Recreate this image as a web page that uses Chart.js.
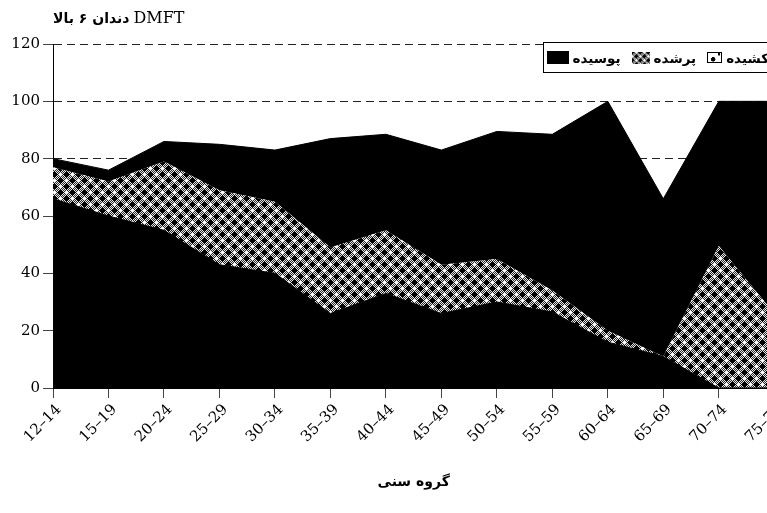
<!DOCTYPE html>
<html>
<head>
<meta charset="utf-8">
<script src="https://cdn.jsdelivr.net/npm/chart.js@4"></script>
<style>
  html, body { margin:0; padding:0; background:#fff; overflow:hidden; width:767px; height:513px; }
  #wrap { position:absolute; left:0; top:0; width:790px; height:513px; }
  #title { position:absolute; left:53px; top:8px; direction:rtl; white-space:nowrap; color:#000; }
  #title b { font-family:"DejaVu Sans", sans-serif; font-size:14px; }
  #title span { font-family:"DejaVu Serif", serif; font-size:16px; }
  #legend { position:absolute; left:543px; top:42px; width:226px; height:31px; border:1px solid #000; border-right:none; background:#fff;
            direction:rtl; display:flex; align-items:center; padding-right:0; box-sizing:border-box;
            font-family:"DejaVu Sans", sans-serif; font-weight:bold; font-size:13.5px; white-space:nowrap; }
  #legend .it { display:flex; align-items:center; margin-left:11px; }
  #legend .sw { height:12px; margin-right:4px; box-sizing:border-box; }
</style>
</head>
<body>
<div id="wrap"><canvas id="c" width="790" height="513"></canvas></div>
<div id="title"><span>DMFT</span> <b>دندان ۶ بالا</b></div>
<div id="legend"></div>
<script>
// گروه های سنی و مقادیر (درصد)
const ageGroups = ["12–14","15–19","20–24","25–29","30–34","35–39","40–44","45–49","50–54","55–59","60–64","65–69","70–74","75–77"];
const decayed   = [66, 60, 55, 43, 40, 26, 33, 26, 30, 26.5, 16, 11, 0, 0];          // پوسیده
const filled    = [11, 12, 24, 26, 25, 23, 22, 17, 15, 7.5, 4, 0, 49.5, 26];        // پرشده
const extracted = [3, 4, 7, 16, 18, 38, 33.5, 40, 44.5, 54.5, 80, 55, 50.5, 74];    // کشیده
const yTicks = [0, 20, 40, 60, 80, 100, 120];
const seriesNames = ["پوسیده", "پرشده", "کشیده"];

// الگوی شطرنجی
function makePattern() {
  const p = document.createElement('canvas');
  p.width = 12; p.height = 12;
  const g = p.getContext('2d');
  const img = g.createImageData(12, 12);
  for (let y = 0; y < 12; y++) {
    for (let x = 0; x < 12; x++) {
      const dc = Math.abs(x - 6) + Math.abs(y - 6);
      const dk = Math.min(x, 12 - x) + Math.min(y, 12 - y);
      const dw1 = Math.min(x, 12 - x) + Math.abs(y - 6);
      const dw2 = Math.abs(x - 6) + Math.min(y, 12 - y);
      let v;
      if (dc <= 3 || dk <= 3) v = 0;
      else if (dw1 <= 1 || dw2 <= 1) v = 255;
      else v = ((x + y) % 2 === 0) ? 230 : 40;
      const i = (y * 12 + x) * 4;
      img.data[i] = img.data[i+1] = img.data[i+2] = v;
      img.data[i+3] = 255;
    }
  }
  g.putImageData(img, 0, 0);
  return p;
}
const patCanvas = makePattern();
const ctx = document.getElementById('c').getContext('2d');
const checker = ctx.createPattern(patCanvas, 'repeat');

// راهنما
const legend = document.getElementById('legend');
const swatches = [
  { name: seriesNames[2], css: "width:15px;height:11px;background:#fff;border:1px solid #000;background-image:radial-gradient(circle at 40% 70%, #000 0 2px, transparent 2.5px), radial-gradient(circle at 85% 15%, #000 0 1px, transparent 1.5px);" },
  { name: seriesNames[1], css: "width:18px;background-image:url(" + patCanvas.toDataURL() + ");background-size:8px 8px;" },
  { name: seriesNames[0], css: "width:22px;height:13px;background:#000;" }
];
swatches.forEach(s => {
  const it = document.createElement('div');
  it.className = 'it';
  it.innerHTML = `<span>${s.name}</span><div class="sw" style="${s.css}"></div>`;
  legend.appendChild(it);
});

const serif = "'DejaVu Serif', serif";

new Chart(ctx, {
  type: 'line',
  data: {
    labels: ageGroups,
    datasets: [
      { label: seriesNames[0], data: decayed, fill: 'origin', backgroundColor: '#000', borderColor: '#000', borderWidth: 1, pointRadius: 0, tension: 0 },
      { label: seriesNames[1], data: filled, fill: '-1', backgroundColor: checker, borderColor: '#000', borderWidth: 0, pointRadius: 0, tension: 0 },
      { label: seriesNames[2], data: extracted, fill: '-1', backgroundColor: '#000', borderColor: '#000', borderWidth: 1, pointRadius: 0, tension: 0 }
    ]
  },
  options: {
    responsive: false,
    animation: false,
    layout: { padding: { top: 44, right: 14, left: 0, bottom: 0 } },
    plugins: { legend: { display: false }, title: { display: false }, tooltip: { enabled: false } },
    scales: {
      x: {
        offset: false,
        afterFit: s => { s.height = 125; },
        grid: { drawOnChartArea: false, drawTicks: true, tickLength: 10, color: '#444' },
        border: { color: '#000', width: 1 },
        ticks: { minRotation: 45, maxRotation: 45, autoSkip: false, color: '#000', padding: 3, labelOffset: 6, font: { family: serif, size: 15 } },
        title: { display: true, text: 'گروه سنی', color: '#000', padding: { top: 4, bottom: 22 }, font: { family: "'DejaVu Sans', sans-serif", size: 14, weight: 'bold' } }
      },
      y: {
        stacked: true,
        min: 0, max: 120,
        afterFit: s => { s.width = 53; },
        afterBuildTicks: s => { s.ticks = yTicks.map(v => ({ value: v })); },
        grid: { color: '#222', tickLength: 10, tickColor: '#444', tickBorderDash: [] },
        border: { color: '#000', width: 1, dash: [8, 5] },
        ticks: { color: '#000', padding: 3, font: { family: serif, size: 15 } }
      }
    }
  }
});
</script>
</body>
</html>
